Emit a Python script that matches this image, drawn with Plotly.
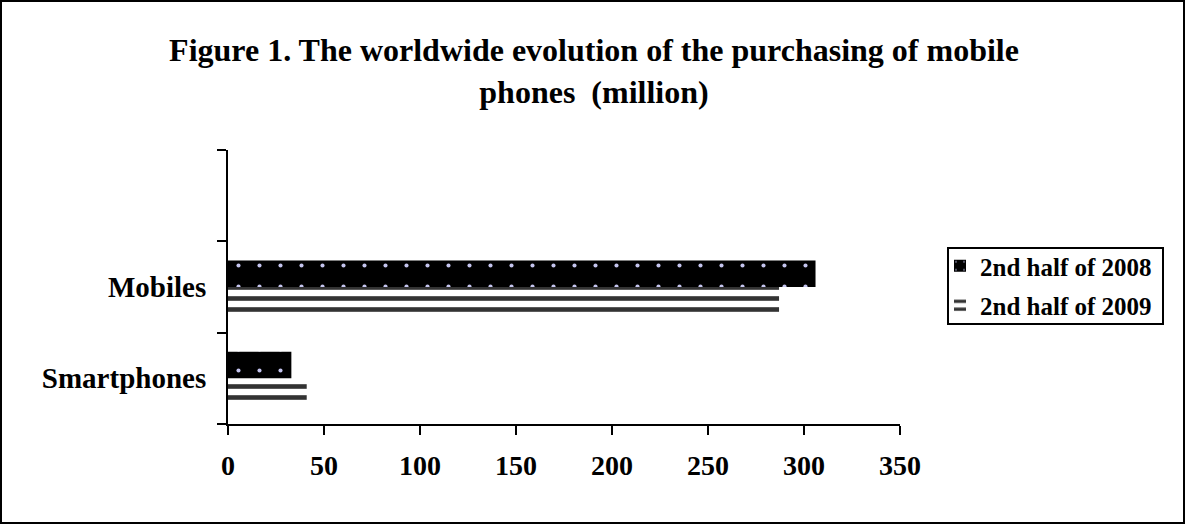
import plotly.graph_objects as go

# Purchases of mobile phones worldwide, million units
categories = ["Smartphones", "Mobiles", " "]
h2_2008 = [33, 306, None]
h2_2009 = [41, 287, None]
x_ticks = [0, 50, 100, 150, 200, 250, 300, 350]

W, H = 1185, 524
L, R, T, B = 228, 285, 150, 100
FONT = "Liberation Serif, Times New Roman, serif"

fig = go.Figure()

# 2009 first so that it sits below 2008 within each group
fig.add_trace(go.Bar(
    y=categories, x=h2_2009, orientation="h", name="<b>2nd half of 2009</b>",
    marker=dict(color="white", line=dict(width=0),
                pattern=dict(shape="-", fgcolor="#333333", bgcolor="white",
                             fgopacity=1, size=11, solidity=0.42)),
    legendrank=2, legendgroup="b",
))
fig.add_trace(go.Bar(
    y=categories, x=h2_2008, orientation="h", name="<b>2nd half of 2008</b>",
    marker=dict(color="black", line=dict(width=0),
                pattern=dict(shape=".", fgcolor="#c4c4ee", bgcolor="black",
                             fgopacity=1, size=21, solidity=0.03)),
    legendrank=1, legendgroup="a",
))

pw, ph = W - L - R, H - T - B

def px_x(v):
    return (v - L) / pw

def px_y(v):
    return (H - B - v) / ph

fig.update_layout(
    width=W, height=H,
    margin=dict(l=L, r=R, t=T, b=B, pad=0),
    paper_bgcolor="white", plot_bgcolor="white",
    barmode="group", bargap=0.42, bargroupgap=0,
    showlegend=True,
    font=dict(family=FONT, color="black"),
    title=dict(
        text="<b>Figure 1. The worldwide evolution of the purchasing of mobile<br>phones  (million)</b>",
        x=594 / W, xanchor="center", xref="container",
        y=1 - 61 / H, yanchor="top", yref="container",
        font=dict(family=FONT, size=32, color="black"),
    ),
    xaxis=dict(
        range=[0, 350], tickvals=x_ticks, ticktext=[f"<b>{v}</b>" for v in x_ticks],
        showgrid=False, zeroline=False, showline=True, linecolor="black", linewidth=2,
        ticks="outside", ticklen=9, tickwidth=2, tickcolor="black",
        tickfont=dict(family=FONT, size=28, color="black"),
        ticklabelstandoff=6,
    ),
    yaxis=dict(
        type="category", categoryorder="array", categoryarray=categories,
        range=[-0.5, 2.5], tickvals=categories,
        ticktext=["<b>Smartphones</b>", "<b>Mobiles</b>", " "],
        tickson="boundaries",
        showgrid=False, zeroline=False, showline=True, linecolor="black", linewidth=2,
        ticks="outside", ticklen=9, tickwidth=2, tickcolor="black",
        tickfont=dict(family=FONT, size=29, color="black"),
        ticklabelstandoff=14,
    ),
    legend=dict(
        x=px_x(940), xanchor="left", y=px_y(243), yanchor="top",
        borderwidth=0, bgcolor="rgba(0,0,0,0)",
        font=dict(family=FONT, size=25, color="black"),
        traceorder="grouped", tracegroupgap=4, itemwidth=30,
    ),
    shapes=[
        # outer frame of the figure
        dict(type="rect", xref="paper", yref="paper",
             x0=px_x(1), x1=px_x(W - 1), y0=px_y(H - 1), y1=px_y(1),
             line=dict(color="black", width=2), fillcolor="rgba(0,0,0,0)", layer="below"),
        # legend frame
        dict(type="rect", xref="paper", yref="paper",
             x0=px_x(948), x1=px_x(1163), y0=px_y(324), y1=px_y(248),
             line=dict(color="black", width=2), fillcolor="white", layer="below"),
    ],
)

fig.write_html("out.html")
